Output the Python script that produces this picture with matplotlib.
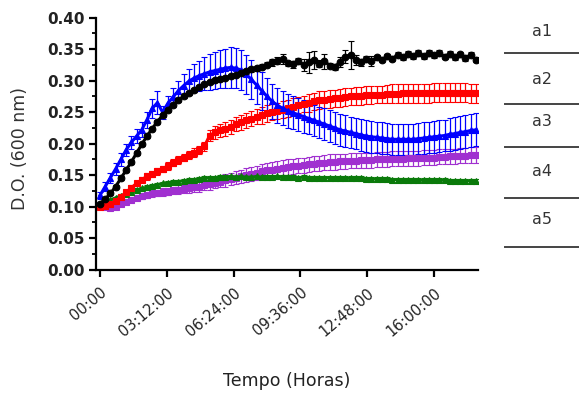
import numpy as np
import matplotlib
matplotlib.use("Agg")
import matplotlib.pyplot as plt
from matplotlib.ticker import MultipleLocator

# sampling grid: one reading every 15 min, 0 to 18 h
hours = np.arange(73) * 0.25

blue = [0.118, 0.132, 0.146, 0.160, 0.175, 0.190, 0.202, 0.212,
        0.222, 0.238, 0.256, 0.265, 0.250, 0.264, 0.274, 0.284,
        0.292, 0.299, 0.304, 0.308, 0.311, 0.314, 0.316, 0.318,
        0.320, 0.321, 0.320, 0.317, 0.310, 0.302, 0.293, 0.284,
        0.275, 0.267, 0.261, 0.256, 0.252, 0.249, 0.246, 0.243,
        0.240, 0.237, 0.234, 0.231, 0.228, 0.225, 0.222, 0.220,
        0.218, 0.216, 0.214, 0.212, 0.211, 0.210, 0.209, 0.208,
        0.207, 0.207, 0.207, 0.207, 0.207, 0.208, 0.209, 0.210,
        0.211, 0.212, 0.213, 0.215, 0.216, 0.218, 0.219, 0.221,
        0.222]
blue_err = [0.006, 0.007, 0.008, 0.009, 0.010, 0.010, 0.011, 0.011,
            0.012, 0.013, 0.015, 0.018, 0.010, 0.012, 0.014, 0.016,
            0.018, 0.020, 0.022, 0.024, 0.026, 0.028, 0.029, 0.030,
            0.031, 0.032, 0.032, 0.032, 0.031, 0.031, 0.030, 0.030,
            0.029, 0.028, 0.028, 0.027, 0.027, 0.026, 0.026, 0.026,
            0.025, 0.025, 0.025, 0.025, 0.025, 0.025, 0.025, 0.025,
            0.025, 0.025, 0.025, 0.025, 0.025, 0.025, 0.025, 0.025,
            0.025, 0.025, 0.025, 0.025, 0.025, 0.025, 0.025, 0.025,
            0.025, 0.025, 0.025, 0.026, 0.026, 0.026, 0.026, 0.026,
            0.026]

black = [0.105, 0.112, 0.121, 0.132, 0.145, 0.158, 0.171, 0.185,
         0.199, 0.212, 0.224, 0.235, 0.245, 0.254, 0.262, 0.269,
         0.275, 0.280, 0.285, 0.290, 0.294, 0.298, 0.301, 0.303,
         0.305, 0.307, 0.309, 0.312, 0.315, 0.318, 0.320, 0.322,
         0.325, 0.329, 0.332, 0.334, 0.328, 0.326, 0.331, 0.325,
         0.329, 0.333, 0.327, 0.331, 0.324, 0.322, 0.330, 0.338,
         0.341, 0.333, 0.329, 0.334, 0.331, 0.337, 0.333, 0.339,
         0.335, 0.341, 0.337, 0.343, 0.339, 0.344, 0.339, 0.344,
         0.340, 0.344, 0.338, 0.343, 0.337, 0.342, 0.336, 0.341,
         0.333]
black_err = [0.003, 0.003, 0.003, 0.003, 0.003, 0.003, 0.003, 0.003,
             0.003, 0.003, 0.003, 0.003, 0.003, 0.003, 0.003, 0.003,
             0.003, 0.003, 0.003, 0.003, 0.003, 0.003, 0.003, 0.003,
             0.003, 0.003, 0.003, 0.003, 0.004, 0.004, 0.004, 0.004,
             0.004, 0.005, 0.006, 0.008, 0.004, 0.006, 0.005, 0.010,
             0.016, 0.014, 0.006, 0.012, 0.004, 0.005, 0.008, 0.010,
             0.022, 0.008, 0.006, 0.005, 0.008, 0.004, 0.004, 0.004,
             0.004, 0.004, 0.004, 0.004, 0.004, 0.004, 0.004, 0.004,
             0.004, 0.004, 0.004, 0.004, 0.004, 0.004, 0.004, 0.004,
             0.004]

red = [0.100, 0.101, 0.104, 0.109, 0.116, 0.123, 0.130, 0.137,
       0.143, 0.148, 0.152, 0.156, 0.160, 0.165, 0.170, 0.174,
       0.178, 0.182, 0.186, 0.190, 0.196, 0.213, 0.218, 0.221,
       0.224, 0.227, 0.231, 0.234, 0.237, 0.240, 0.243, 0.245,
       0.248, 0.250, 0.252, 0.254, 0.256, 0.259, 0.261, 0.263,
       0.265, 0.267, 0.269, 0.270, 0.271, 0.272, 0.273, 0.274,
       0.275, 0.276, 0.276, 0.277, 0.277, 0.278, 0.278, 0.279,
       0.279, 0.279, 0.280, 0.280, 0.280, 0.280, 0.280, 0.280,
       0.281, 0.281, 0.281, 0.281, 0.281, 0.281, 0.281, 0.280,
       0.280]
red_err = [0.002, 0.002, 0.003, 0.003, 0.003, 0.004, 0.004, 0.004,
           0.004, 0.005, 0.005, 0.005, 0.005, 0.006, 0.006, 0.006,
           0.006, 0.006, 0.007, 0.007, 0.007, 0.009, 0.010, 0.010,
           0.011, 0.011, 0.011, 0.012, 0.012, 0.012, 0.012, 0.013,
           0.013, 0.013, 0.013, 0.013, 0.013, 0.013, 0.013, 0.013,
           0.014, 0.014, 0.014, 0.014, 0.014, 0.014, 0.014, 0.014,
           0.014, 0.014, 0.014, 0.014, 0.014, 0.014, 0.014, 0.014,
           0.015, 0.015, 0.015, 0.015, 0.015, 0.015, 0.015, 0.015,
           0.015, 0.015, 0.015, 0.015, 0.015, 0.015, 0.015, 0.015,
           0.015]

purple = [0.102, 0.099, 0.098, 0.100, 0.104, 0.108, 0.111, 0.114,
          0.117, 0.119, 0.121, 0.122, 0.123, 0.124, 0.126, 0.127,
          0.128, 0.129, 0.131, 0.132, 0.134, 0.136, 0.138, 0.140,
          0.142, 0.144, 0.146, 0.148, 0.150, 0.152, 0.154, 0.156,
          0.158, 0.159, 0.160, 0.162, 0.163, 0.164, 0.165, 0.166,
          0.167, 0.168, 0.169, 0.170, 0.171, 0.171, 0.172, 0.172,
          0.173, 0.173, 0.174, 0.174, 0.174, 0.175, 0.175, 0.175,
          0.176, 0.176, 0.176, 0.177, 0.177, 0.177, 0.178, 0.178,
          0.178, 0.179, 0.179, 0.180, 0.180, 0.181, 0.181, 0.182,
          0.182]
purple_err = [0.002, 0.002, 0.002, 0.003, 0.003, 0.003, 0.004, 0.004,
              0.004, 0.005, 0.005, 0.005, 0.006, 0.006, 0.006, 0.007,
              0.007, 0.007, 0.008, 0.008, 0.008, 0.009, 0.009, 0.009,
              0.010, 0.010, 0.010, 0.010, 0.011, 0.011, 0.011, 0.011,
              0.012, 0.012, 0.012, 0.012, 0.012, 0.012, 0.012, 0.012,
              0.012, 0.012, 0.012, 0.012, 0.012, 0.012, 0.012, 0.012,
              0.012, 0.012, 0.012, 0.012, 0.012, 0.012, 0.012, 0.012,
              0.012, 0.012, 0.012, 0.012, 0.012, 0.012, 0.012, 0.012,
              0.012, 0.012, 0.012, 0.012, 0.012, 0.012, 0.012, 0.012,
              0.012]

green = [0.105, 0.108, 0.111, 0.114, 0.117, 0.120, 0.123, 0.126,
         0.129, 0.131, 0.133, 0.135, 0.137, 0.138, 0.139, 0.140,
         0.141, 0.142, 0.143, 0.144, 0.145, 0.146, 0.146, 0.147,
         0.147, 0.148, 0.147, 0.148, 0.147, 0.147, 0.148, 0.147,
         0.147, 0.147, 0.148, 0.147, 0.147, 0.147, 0.146, 0.147,
         0.146, 0.146, 0.146, 0.146, 0.146, 0.145, 0.146, 0.145,
         0.145, 0.145, 0.145, 0.144, 0.144, 0.144, 0.144, 0.144,
         0.143, 0.143, 0.143, 0.143, 0.143, 0.142, 0.142, 0.142,
         0.142, 0.142, 0.142, 0.141, 0.141, 0.141, 0.141, 0.141,
         0.141]
green_err = [0.002, 0.002, 0.002, 0.002, 0.003, 0.003, 0.003, 0.003,
             0.003, 0.003, 0.003, 0.003, 0.003, 0.003, 0.003, 0.003,
             0.003, 0.003, 0.003, 0.003, 0.003, 0.003, 0.003, 0.003,
             0.003, 0.003, 0.003, 0.003, 0.003, 0.003, 0.003, 0.003,
             0.003, 0.003, 0.003, 0.003, 0.003, 0.003, 0.003, 0.003,
             0.003, 0.003, 0.003, 0.003, 0.003, 0.003, 0.003, 0.003,
             0.003, 0.003, 0.003, 0.003, 0.003, 0.003, 0.003, 0.003,
             0.003, 0.003, 0.003, 0.003, 0.003, 0.003, 0.003, 0.003,
             0.003, 0.003, 0.003, 0.003, 0.003, 0.003, 0.003, 0.003,
             0.003]

ytick_pos = [0.00, 0.05, 0.10, 0.15, 0.20, 0.25, 0.30, 0.35, 0.40]
xtick_pos = [0, 3.2, 6.4, 9.6, 12.8, 16.0]
xtick_labels = ["00:00", "03:12:00", "06:24:00", "09:36:00", "12:48:00", "16:00:00"]
legend_labels = ["a1", "a2", "a3", "a4", "a5"]

# (values, errors, colour, marker), drawn bottom to top
SERIES = [
    (purple, purple_err, "#a030d0", "s"),
    (green, green_err, "#0a7a0a", "^"),
    (red, red_err, "#ff0000", "s"),
    (blue, blue_err, "#0000ff", "^"),
    (black, black_err, "#000000", "o"),
]

W, H = 579, 394
fig = plt.figure(figsize=(W / 100, H / 100), dpi=100)
ax = fig.add_axes([96 / W, 1 - 269.7 / H, (478 - 96) / W, (269.7 - 17.7) / H])

for vals, err, color, marker in SERIES:
    ax.errorbar(hours, vals, yerr=err, color=color, ecolor=color,
                marker=marker, markersize=4.8, markeredgewidth=0.8,
                linewidth=2.2, elinewidth=0.9, capsize=2.3, capthick=0.9)

ax.set_xlim(-0.19, 18.1)
ax.set_ylim(0, 0.40)
ax.set_yticks(ytick_pos)
ax.set_yticklabels([f"{v:.2f}" for v in ytick_pos])
ax.yaxis.set_minor_locator(MultipleLocator(0.025))
ax.set_xticks(xtick_pos)
ax.set_xticklabels(xtick_labels, rotation=40, ha="right", va="top",
                   rotation_mode="anchor", fontsize=10.5)

for side in ("top", "right"):
    ax.spines[side].set_visible(False)
for side in ("left", "bottom"):
    ax.spines[side].set_linewidth(1.6)

ax.tick_params(axis="both", which="major", length=5, width=1.6,
               color="black", pad=3)
ax.tick_params(axis="x", pad=6)
ax.tick_params(axis="y", which="minor", length=3, width=1.3)
ax.tick_params(axis="y", labelsize=11)
for lbl in ax.get_yticklabels():
    lbl.set_fontweight("bold")
    lbl.set_color("#222222")
for lbl in ax.get_xticklabels():
    lbl.set_color("#222222")

fig.text(287 / W, 1 - 381 / H, "Tempo (Horas)", fontsize=12.5,
         color="#222222", ha="center", va="center")
fig.text(20 / W, 1 - 148 / H, "D.O. (600 nm)", rotation=90, fontsize=12.5,
         color="#333333", ha="center", va="center")

# label column on the right
label_y = [31, 80, 122, 172, 220]
rule_y = [53, 104, 147, 198, 247]
for txt, ly in zip(legend_labels, label_y):
    fig.text(542 / W, 1 - ly / H, txt, fontsize=11.5, color="#333333",
             ha="center", va="center")
for ry in rule_y:
    fig.add_artist(plt.Line2D([505 / W, 1.0], [1 - ry / H, 1 - ry / H],
                              transform=fig.transFigure, color="#444444",
                              linewidth=1.4))

fig.savefig("out.png", dpi=100)
